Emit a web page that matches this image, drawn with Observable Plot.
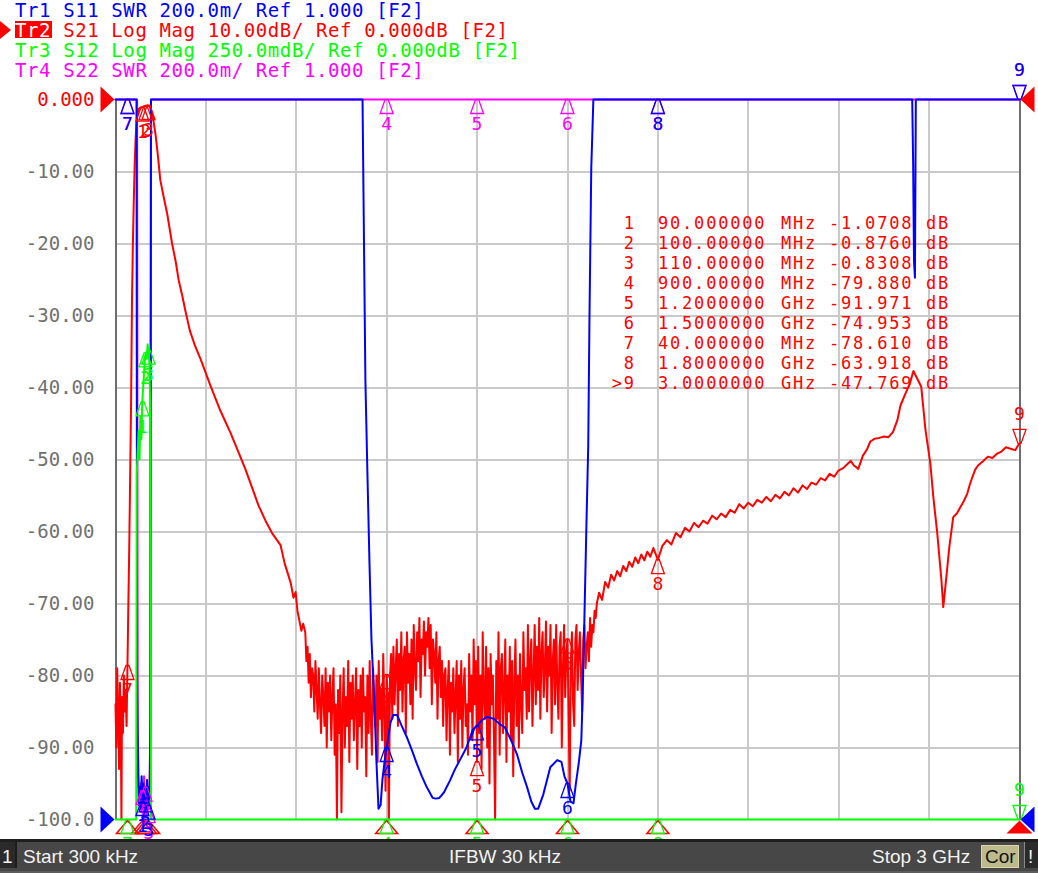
<!DOCTYPE html>
<html>
<head>
<meta charset="utf-8">
<script src="https://cdn.jsdelivr.net/npm/d3@7"></script>
<script src="https://cdn.jsdelivr.net/npm/@observablehq/plot@0.6"></script>
<style>
html,body{margin:0;padding:0;background:#fff;overflow:hidden;}
#wrap{position:relative;width:1038px;height:873px;overflow:hidden;background:#fff;}
#chart{position:absolute;left:0;top:0;}
.mono{font-family:"DejaVu Sans Mono",monospace;}
.hdr{position:absolute;left:15px;font-size:19px;letter-spacing:0.6px;line-height:20px;height:20px;white-space:pre;}
#tr2box{position:absolute;left:15px;top:21px;width:37px;height:17px;background:#ff0000;}
#tr2tri{position:absolute;left:0;top:21px;width:0;height:0;border-left:11px solid #ff0000;border-top:9px solid transparent;border-bottom:9px solid transparent;}
.row{position:absolute;left:0;width:1038px;height:20px;font-size:17px;line-height:20px;letter-spacing:1.8px;color:#ff0000;white-space:pre;}
.row span{position:absolute;top:0;}
#bar{position:absolute;left:0;top:839px;width:1038px;height:34px;background:#474747;border-top:3px solid #1f1f1f;border-bottom:2px solid #5c5c5c;box-sizing:border-box;font-family:"Liberation Sans",Arial,sans-serif;font-size:19px;color:#f2f2f2;}
#bar div{position:absolute;line-height:20px;white-space:pre;}
</style>
</head>
<body>
<div id="wrap">
  <div id="chart"></div>
  <div id="tr2box"></div>
  <div id="tr2tri"></div>
  <div id="header"></div>
  <div id="table"></div>
  <div id="bar">
    <div style="left:0;top:0;width:15px;height:26px;background:#2a2a2a;border-right:2px solid #1c1c1c;"></div>
    <div style="left:2px;top:5px;">1</div>
    <div style="left:23px;top:5px;">Start 300 kHz</div>
    <div style="left:449px;top:5px;">IFBW 30 kHz</div>
    <div style="left:872px;top:5px;">Stop 3 GHz</div>
    <div style="left:981px;top:3px;width:38px;height:23px;background:#bdbb8c;border:1px solid #d8d5a8;box-sizing:border-box;"></div>
    <div style="left:985px;top:5px;color:#111;">Cor</div>
    <div style="left:1024px;top:0;width:14px;height:26px;background:#2a2a2a;border-left:1px solid #8a8a8a;"></div>
    <div style="left:1028px;top:5px;">!</div>
  </div>
</div>
<script>
// ---------- sweep ----------
const startMHz = 0.3;
const stopMHz = 3000;

// ---------- axis tick labels ----------
const yTicks = [0, -10, -20, -30, -40, -50, -60, -70, -80, -90, -100];
const yTickLabels = ["0.000", "-10.00", "-20.00", "-30.00", "-40.00", "-50.00", "-60.00", "-70.00", "-80.00", "-90.00", "-100.0"];

// ---------- header ----------
const headerLines = [
  "Tr1 S11 SWR 200.0m/ Ref 1.000 [F2]",
  "Tr2 S21 Log Mag 10.00dB/ Ref 0.000dB [F2]",
  "Tr3 S12 Log Mag 250.0mdB/ Ref 0.000dB [F2]",
  "Tr4 S22 SWR 200.0m/ Ref 1.000 [F2]"
];
const traceColors = ["#0000ff", "#ff0000", "#00ff00", "#ff00ff"];

// ---------- Tr2 S21 (dB) ----------
const s21LowF = [0.3, 3, 6, 9, 12, 15, 18, 20, 22, 25, 28, 31, 34, 37, 40, 43, 46, 49, 52, 55, 58, 61, 64, 67, 70, 74, 78, 82, 86, 90, 95, 100, 105, 110, 115, 120, 125, 133, 141, 149, 160, 172, 188, 200, 210, 222, 232, 247, 265, 282, 315, 348, 382, 431, 475, 498, 521, 548, 562, 574, 582, 591, 598, 604, 611, 617, 623];
const s21LowDb = [-84, -90, -79, -86, -93, -81, -88, -100, -83, -88, -80, -85, -82, -87, -78.61, -70, -62, -52, -42, -28, -20, -14, -9, -5.5, -3.2, -1.8, -1.3, -1.15, -1.1, -1.0708, -0.95, -0.876, -0.84, -0.8308, -1.1, -1.7, -2.6, -4.8, -7.8, -11.2, -13.5, -15.9, -20, -22.5, -25.1, -27.3, -29.3, -32.1, -34.3, -36, -39.7, -43.2, -46.3, -51.3, -56.4, -58.5, -60.3, -61.9, -64.5, -66.1, -67.2, -69.2, -68.4, -71, -72.5, -73.8, -72.8];
const s21NoiseStart = 630, s21NoiseStep = 3.75;
const s21NoiseDb = [
  -74, -78, -76, -81, -77, -83, -79, -80, -85, -78,
  -82, -86, -79, -84, -88, -80, -83, -87, -79, -90,
  -81, -85, -80, -89, -83, -79, -91, -84, -100, -82,
  -88, -80, -99, -85, -79, -90, -83, -87, -78, -92,
  -81, -86, -80, -89, -84, -79, -93, -82, -87, -80,
  -90, -79, -85, -83, -94, -80, -88, -78, -86, -91,
  -79, -84, -87, -80, -92, -78, -86, -82, -89, -77,
  -85, -96, -79.88, -83, -100, -80, -77, -86, -76, -84,
  -79, -75, -87, -77, -82, -74, -85, -78, -76, -88,
  -74, -81, -77, -84, -75, -86, -73, -79, -82, -74,
  -78, -72, -83, -75, -77, -72.5, -80, -74, -76, -72,
  -79, -73, -84, -75, -77, -81, -74, -86, -78, -76,
  -83, -78, -87, -80, -79, -89, -82, -78, -91, -81,
  -85, -79, -88, -83, -78, -92, -80, -86, -78, -90,
  -82, -79, -87, -84, -91, -77, -85, -80, -89, -75,
  -84, -78, -91.971, -76, -88, -80, -93, -74, -83, -86,
  -76, -90, -79, -95, -77, -84, -80, -89, -100, -78,
  -86, -74, -91, -79, -77, -88, -82, -75, -92, -80,
  -85, -76, -89, -78, -94, -81, -75, -87, -80, -90,
  -77, -84, -88, -74, -82, -79, -86, -73, -85, -78,
  -75, -87, -80, -73, -84, -76, -82, -72, -86, -77,
  -74, -83, -79, -72.5, -85, -76, -80, -73, -88, -78,
  -75, -84, -73, -81, -86, -76, -74, -90, -79, -73,
  -83, -77, -74.953, -85, -96, -78, -74, -84, -87, -75,
  -73, -82, -77, -74, -80, -85, -75, -73, -79, -76,
  -74, -78, -72, -76, -73, -74, -71, -72, -70
];
const s21HighF = [1605, 1615, 1625, 1635, 1645, 1655, 1665, 1675, 1685, 1695, 1705, 1715, 1725, 1735, 1745, 1755, 1765, 1775, 1785, 1800, 1815, 1830, 1845, 1860, 1875, 1890, 1905, 1920, 1935, 1950, 1965, 1980, 1995, 2010, 2025, 2040, 2055, 2070, 2085, 2100, 2115, 2130, 2145, 2160, 2175, 2190, 2205, 2220, 2235, 2250, 2265, 2280, 2295, 2310, 2325, 2340, 2355, 2370, 2385, 2400, 2415, 2430, 2440, 2450, 2465, 2480, 2495, 2505, 2520, 2535, 2550, 2565, 2580, 2595, 2605, 2620, 2635, 2648, 2674, 2688, 2704, 2714, 2727, 2741, 2747, 2754, 2767, 2780, 2792, 2804, 2815, 2827, 2835, 2844, 2853, 2863, 2880, 2895, 2910, 2925, 2940, 2955, 2970, 2986, 2993, 3000];
const s21HighDb = [-68.5, -69.5, -67, -67.8, -66, -66.8, -65.5, -66.2, -64.8, -65.5, -64.2, -64.9, -63.6, -64.4, -63.2, -64, -62.8, -63.5, -62.3, -63.918, -62, -61.2, -61.8, -60.2, -60.8, -59.5, -60, -58.8, -59.4, -58.5, -58.9, -57.8, -58.3, -57.5, -58, -57, -57.4, -56.2, -56.8, -56, -56.5, -55.6, -56, -55.2, -55.8, -54.9, -55.4, -54.5, -55, -54, -54.6, -53.6, -54.1, -53.2, -53.5, -52.6, -52.9, -52, -52.4, -51.5, -51.2, -50.6, -50.2, -50.8, -51.3, -49.5, -48.5, -47.5, -47.1, -47, -46.8, -46.9, -46.2, -44.5, -42.5, -41, -39.6, -37.7, -39.9, -45.9, -50.5, -55.2, -60.2, -66.8, -70.5, -67.7, -62.2, -58, -57.5, -56.6, -55.8, -54.7, -53.5, -52.4, -51.4, -50.8, -50.2, -49.6, -49.8, -49.2, -48.9, -48.3, -48.5, -48.7, -48.2, -47.769];

// ---------- Tr1 S11 (SWR) ----------
const s11F = [0.3, 70, 72, 75, 78, 81, 84, 87, 90, 93, 96, 99, 102, 105, 108, 111, 114, 116, 118, 820, 829.5, 836, 843, 849.6, 859, 866, 873, 880, 886, 893, 900, 913, 922, 935, 950, 968, 985, 1000, 1017, 1033, 1053, 1063, 1075, 1090, 1110, 1127, 1143, 1165, 1186, 1200, 1215, 1233, 1255, 1275, 1293, 1313, 1333, 1350, 1366, 1380, 1392, 1403, 1420, 1443, 1466, 1480, 1490, 1500, 1510, 1520, 1528, 1538, 1546, 1550, 1556, 1563, 1569, 1573, 1579, 1586, 2644, 2647, 2650, 2653, 2656, 3000];
const s11Swr = [3.5, 3.5, 1.4, 1.12, 1.04, 1.09, 1.03, 1.12, 1.05, 1.1, 1.02, 1.08, 1.03, 1.11, 1.04, 1.09, 1.05, 1.3, 3.5, 3.5, 2.22, 1.97, 1.715, 1.5, 1.33, 1.164, 1.03, 1.04, 1.11, 1.16, 1.2, 1.27, 1.29, 1.29, 1.26, 1.227, 1.19, 1.155, 1.12, 1.09, 1.06, 1.058, 1.06, 1.075, 1.108, 1.14, 1.165, 1.2, 1.25, 1.26, 1.275, 1.285, 1.28, 1.265, 1.255, 1.22, 1.18, 1.13, 1.09, 1.05, 1.03, 1.03, 1.07, 1.145, 1.165, 1.16, 1.12, 1.1, 1.05, 1.045, 1.1, 1.16, 1.22, 1.33, 1.55, 1.82, 2.04, 2.39, 2.81, 3.5, 3.5, 2.83, 2.55, 2.505, 3.5, 3.5];

// ---------- Tr3 S12 (dB, 250 mdB/div) ----------
const s12F = [0.3, 69, 71, 74, 77, 80, 83, 86, 89, 92, 95, 98, 101, 104, 107, 110, 113, 116, 118, 3000];
const s12Db = [-5, -5, -1.3, -1.22, -1.15, -1.25, -1.1, -1.18, -1.05, -1.0, -0.95, -0.9, -0.88, -0.9, -0.85, -0.87, -0.92, -1.1, -5, -5];

// ---------- Tr4 S22 (SWR) ----------
const s22F = [0.3, 72, 74, 77, 80, 83, 86, 89, 92, 95, 98, 101, 104, 107, 110, 113, 116, 118, 3000];
const s22Swr = [3.5, 3.5, 1.25, 1.12, 1.04, 1.1, 1.02, 1.08, 1.03, 1.12, 1.04, 1.09, 1.01, 1.07, 1.03, 1.1, 1.25, 3.5, 3.5];

// ---------- markers ----------
const markerNum = [1, 2, 3, 4, 5, 6, 7, 8, 9];
const markerF = [90, 100, 110, 900, 1200, 1500, 40, 1800, 3000];
const markerS21 = [-1.0708, -0.876, -0.8308, -79.88, -91.971, -74.953, -78.61, -63.918, -47.769];
const markerS11 = [1.05, 1.06, 1.04, 1.2, 1.26, 1.1, 3.5, 3.5, 3.5];
const markerS12 = [-1.05, -0.88, -0.87, -5, -5, -5, -5, -5, -5];
const markerS22 = [1.08, 1.09, 1.03, 3.5, 3.5, 3.5, 3.5, 3.5, 3.5];
const activeMarker = 9;

// ---------- display mapping (grid units: 10 divisions, -100..0) ----------
const clampY = v => Math.max(-100, Math.min(0, v));
const fromS21 = d => clampY(d);            // 10 dB/div, ref 0 dB at top
const fromS12 = d => clampY(d * 40);       // 0.25 dB/div, ref 0 dB at top
const fromSWR = s => clampY(-100 + (s - 1) * 50); // 0.2/div, ref 1.000 at bottom

const rowsOf = (F, V, fn) => F.map((f, i) => ({f, y: fn(V[i])}));
const s21NoiseF = s21NoiseDb.map((_, i) => s21NoiseStart + i * s21NoiseStep);
const s21Rows = [
  ...rowsOf(s21LowF, s21LowDb, fromS21),
  ...rowsOf(s21NoiseF, s21NoiseDb, fromS21),
  ...rowsOf(s21HighF, s21HighDb, fromS21)
];
const s11Rows = rowsOf(s11F, s11Swr, fromSWR);
const s12Rows = rowsOf(s12F, s12Db, fromS12);
const s22Rows = rowsOf(s22F, s22Swr, fromSWR);

const mono = "DejaVu Sans Mono";
const sym = pts => ({draw(ctx) { ctx.moveTo(pts[0][0], pts[0][1]); for (const p of pts.slice(1)) ctx.lineTo(p[0], p[1]); ctx.closePath(); }});
const mkUp = sym([[-1.5, 0], [1.5, 0], [6.5, 14], [-6.5, 14]]);
const mkDown = sym([[-1.5, 0], [1.5, 0], [6.5, -14], [-6.5, -14]]);
const stimUp = sym([[0, 1], [-11, 14], [11, 14]]);
const bigUp = sym([[0, 1], [-13, 14], [13, 14]]);
const refRight = sym([[0, 0], [-14, -13], [-14, 13]]);
const refLeft = sym([[0, 0], [14, -13], [14, 13]]);

function markerMarks(vals, fn, color) {
  const rows = markerNum.map((n, i) => ({n, f: markerF[i], y: fn(vals[i]), active: n === activeMarker}));
  const up = rows.filter(d => !d.active), dn = rows.filter(d => d.active);
  return [
    Plot.dot(up, {x: "f", y: "y", symbol: mkUp, r: 5, fill: "none", stroke: color, strokeWidth: 1.3}),
    Plot.text(up, {x: "f", y: "y", text: d => String(d.n), dy: 25, fill: color, fontFamily: mono, fontSize: 18}),
    Plot.dot(dn, {x: "f", y: "y", symbol: mkDown, r: 5, fill: "none", stroke: color, strokeWidth: 1.3}),
    Plot.text(dn, {x: "f", y: "y", text: d => String(d.n), dy: -29, fill: color, fontFamily: mono, fontSize: 18})
  ];
}

const gridX = d3.range(1, 10).map(k => startMHz + k * (stopMHz - startMHz) / 10);
const gridY = yTicks.filter(t => t !== 0 && t !== -100);
const stimRows = markerNum.map((n, i) => ({n, f: markerF[i]}));

const chart = Plot.plot({
  width: 1038,
  height: 873,
  marginLeft: 115,
  marginRight: 19,
  marginTop: 99,
  marginBottom: 54,
  x: {domain: [startMHz, stopMHz], axis: null},
  y: {domain: [-100, 0], axis: null},
  style: {background: "transparent", overflow: "visible"},
  marks: [
    Plot.ruleX(gridX, {stroke: "#cacaca", strokeWidth: 2, shapeRendering: "crispEdges"}),
    Plot.ruleY(gridY, {stroke: "#cacaca", strokeWidth: 2, shapeRendering: "crispEdges"}),
    Plot.ruleX([startMHz, stopMHz], {stroke: "#6e6e6e", strokeWidth: 2, shapeRendering: "crispEdges"}),
    Plot.line(s22Rows, {x: "f", y: "y", stroke: traceColors[3], strokeWidth: 2}),
    Plot.line(s21Rows, {x: "f", y: "y", stroke: traceColors[1], strokeWidth: 2}),
    Plot.line(s11Rows, {x: "f", y: "y", stroke: traceColors[0], strokeWidth: 2}),
    Plot.line(s12Rows, {x: "f", y: "y", stroke: traceColors[2], strokeWidth: 2}),
    // stimulus indicators along the bottom edge
    Plot.dot(stimRows.filter(d => d.n !== activeMarker), {x: "f", y: () => -100, symbol: stimUp, r: 5, fill: "none", stroke: "#ff0000", strokeWidth: 1.5}),
    Plot.dot(stimRows.filter(d => d.n === activeMarker), {x: "f", y: () => -100, symbol: bigUp, r: 5, fill: "#ff0000", stroke: "none"}),
    ...markerMarks(markerS22, fromSWR, traceColors[3]),
    ...markerMarks(markerS12, fromS12, traceColors[2]),
    ...markerMarks(markerS21, fromS21, traceColors[1]),
    ...markerMarks(markerS11, fromSWR, traceColors[0]),
    // reference level indicators
    Plot.dot([0], {x: () => startMHz, y: () => 0, symbol: refRight, r: 5, fill: "#ff0000", stroke: "none", dx: -1}),
    Plot.dot([0], {x: () => startMHz, y: () => -100, symbol: refRight, r: 5, fill: "#0000ff", stroke: "none", dx: -1}),
    Plot.dot([0], {x: () => stopMHz, y: () => 0, symbol: refLeft, r: 5, fill: "#ff0000", stroke: "none", dx: 1}),
    Plot.dot([0], {x: () => stopMHz, y: () => -100, symbol: refLeft, r: 5, fill: "#0000ff", stroke: "none", dx: 1}),
    // y tick labels
    Plot.text(yTicks.filter(t => t === 0), {x: () => startMHz, y: d => d, text: d => yTickLabels[yTicks.indexOf(d)], textAnchor: "end", dx: -21, fill: "#ff0000", fontFamily: mono, fontSize: 19, ariaLabel: "ylab"}),
    Plot.text(yTicks.filter(t => t !== 0), {x: () => startMHz, y: d => d, text: d => yTickLabels[yTicks.indexOf(d)], textAnchor: "end", dx: -21, fill: "#707070", fontFamily: mono, fontSize: 19, ariaLabel: "ylab"})
  ]
});
d3.select(chart).selectAll('g[aria-label="ylab"] text').style("letter-spacing", "0.6px");
document.getElementById("chart").appendChild(chart);

// ---------- header lines ----------
const hdr = document.getElementById("header");
headerLines.forEach((line, k) => {
  const div = document.createElement("div");
  div.className = "hdr mono";
  div.style.top = (20 * k) + "px";
  div.style.color = traceColors[k];
  if (k === 1) {
    const s = document.createElement("span");
    s.style.color = "#ffffff";
    s.textContent = line.slice(0, 3);
    div.appendChild(s);
    div.appendChild(document.createTextNode(line.slice(3)));
  } else {
    div.textContent = line;
  }
  hdr.appendChild(div);
});

// ---------- marker table ----------
const tbl = document.getElementById("table");
markerNum.forEach((n, i) => {
  const f = markerF[i];
  const isG = f >= 1000;
  const freqTxt = (isG ? f / 1000 : f).toPrecision(8);
  const v = markerS21[i];
  const valTxt = v.toFixed(Math.abs(v) < 10 ? 4 : 3);
  const row = document.createElement("div");
  row.className = "row mono";
  row.style.top = (213 + 20 * i) + "px";
  const cells = [
    [(n === activeMarker ? ">" : "") + n, 598, 37.8, "right"],
    [freqTxt, 658, null, "left"],
    [isG ? "GHz" : "MHz", 781, null, "left"],
    [valTxt, 829, null, "left"],
    ["dB", 926, null, "left"]
  ];
  cells.forEach(([t, x, w, al]) => {
    const s = document.createElement("span");
    s.textContent = t;
    s.style.left = x + "px";
    if (w) { s.style.width = w + "px"; s.style.textAlign = al; }
    row.appendChild(s);
  });
  tbl.appendChild(row);
});
</script>
</body>
</html>
